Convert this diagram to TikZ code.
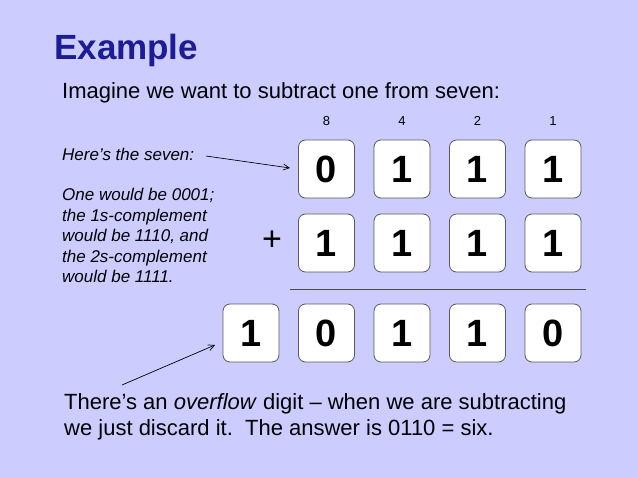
\documentclass[tikz,border=0pt]{standalone}
\usepackage{fontspec}
\setmainfont{Liberation Sans}
\usetikzlibrary{arrows.meta}
\definecolor{bg}{HTML}{CCCCFF}
\definecolor{titleblue}{HTML}{1C1C94}
\begin{document}
\begin{tikzpicture}[x=1pt,y=-1pt,
  digit/.style={draw=black!65,line width=0.8pt,fill=white,rounded corners=7pt,minimum width=56pt,minimum height=58pt,inner sep=0pt,font=\fontsize{38}{38}\selectfont\bfseries},
  weight/.style={font=\fontsize{13}{13}\selectfont,inner sep=0pt},
  note/.style={font=\fontsize{17}{20.5}\selectfont\itshape,inner sep=0pt,anchor=base west,align=left},
  body/.style={font=\fontsize{22}{26}\selectfont,inner sep=0pt,anchor=base west,align=left},
  pointer/.style={line width=0.7pt,-{Straight Barb[length=6pt,width=6pt]}}]
\fill[bg] (0,0) rectangle (638,478);
\useasboundingbox (0,0) rectangle (638,478);
\node[inner sep=0pt,anchor=base west,text=titleblue,font=\fontsize{35}{35}\selectfont\bfseries] (title) at (54,60) {Example};
\node[body] (intro) at (62,99) {Imagine we want to subtract one from seven:};
\node[weight] (w8) at (326.5,121) {8};
\node[weight] (w4) at (402,121) {4};
\node[weight] (w2) at (477.5,121) {2};
\node[weight] (w1) at (553,121) {1};
\node[digit] (a1) at (326.5,169) {0};
\node[digit] (a2) at (402,169) {1};
\node[digit] (a3) at (477.5,169) {1};
\node[digit] (a4) at (553,169) {1};
\node[digit] (b1) at (326.5,243) {1};
\node[digit] (b2) at (402,243) {1};
\node[digit] (b3) at (477.5,243) {1};
\node[digit] (b4) at (553,243) {1};
\node[digit] (c0) at (251,333) {1};
\node[digit] (c1) at (326.5,333) {0};
\node[digit] (c2) at (402,333) {1};
\node[digit] (c3) at (477.5,333) {1};
\node[digit] (c4) at (553,333) {0};
\node[inner sep=0pt,font=\fontsize{34}{34}\selectfont] (plus) at (272,241) {+};
\coordinate (ruleL) at (290,289);
\coordinate (ruleR) at (586,289);
\draw[line width=0.6pt,black!70] (ruleL) -- (ruleR);
\node[note] (seven) at (62,161) {Here’s the seven:};
\node[note] (one) at (62,283) {One would be 0001;\\the 1s-complement\\would be 1110, and\\the 2s-complement\\would be 1111.};
\coordinate (sevenEnd) at (206,156);
\coordinate (sevenTip) at (290,168);
\draw[pointer] (sevenEnd) -- (sevenTip);
\coordinate (ovStart) at (122,385);
\coordinate (ovEnd) at (215,345);
\draw[pointer] (ovStart) -- (ovEnd);
\node[body] (outro) at (64,436) {There’s an \textit{overflow} digit – when we are subtracting\\we just discard it.\ \ The answer is 0110 = six.};
\end{tikzpicture}
\end{document}
